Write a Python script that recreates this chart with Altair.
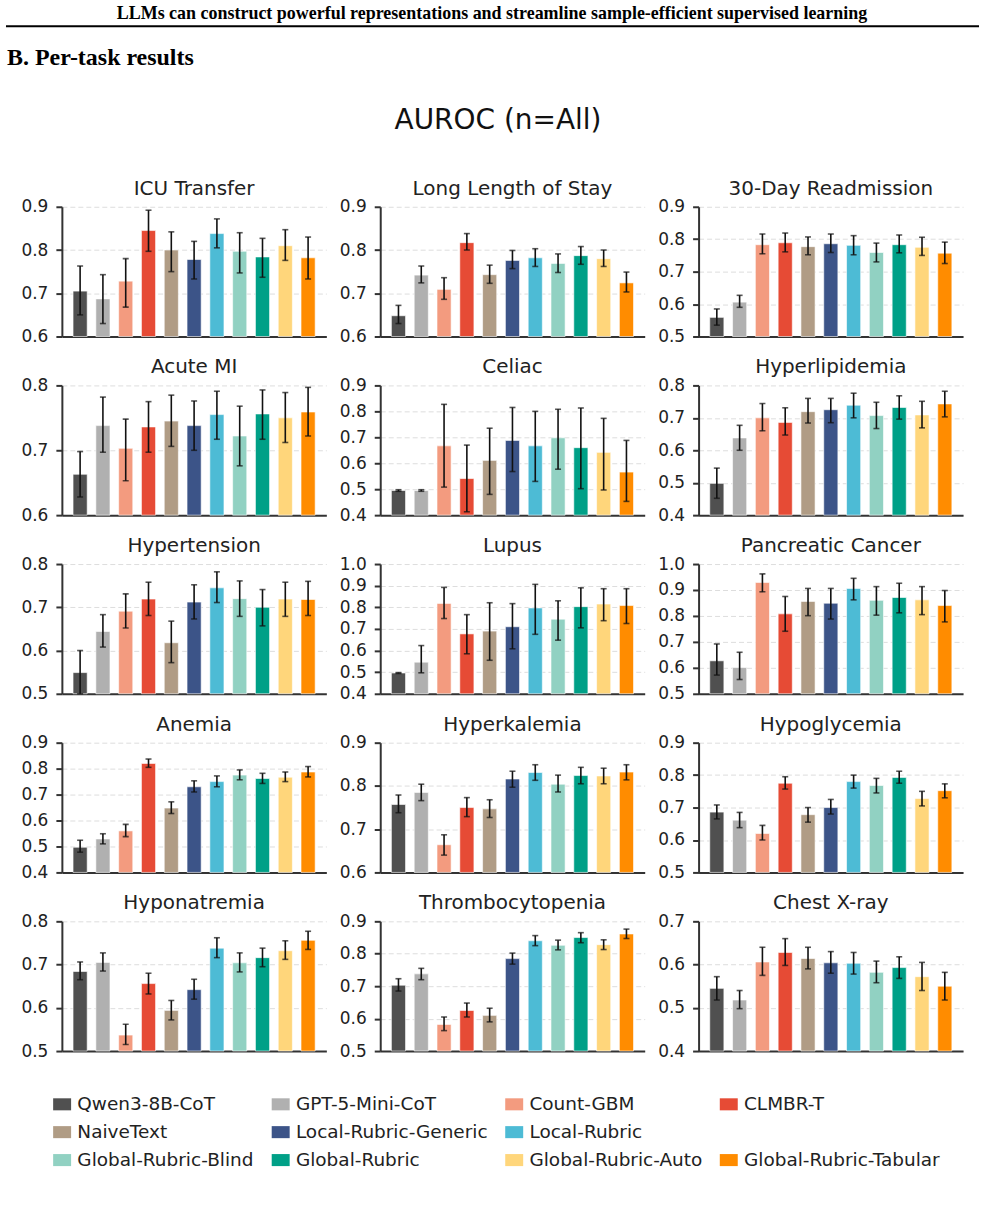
import altair as alt
import pandas as pd

# Methods in plotting order, with their bar colours
METHODS = [
    "Qwen3-8B-CoT", "GPT-5-Mini-CoT", "Count-GBM", "CLMBR-T", "NaiveText",
    "Local-Rubric-Generic", "Local-Rubric", "Global-Rubric-Blind",
    "Global-Rubric", "Global-Rubric-Auto", "Global-Rubric-Tabular",
]
COLORS = [
    "#505050", "#b0b0b0", "#F39B7F", "#E64B35", "#B09C85",
    "#3C5488", "#4DBBD5", "#91D1C2", "#00A087", "#FFD67B", "#FF8C00",
]

# AUROC mean and 95% CI bounds per task (one value per method)
ICU_MEAN = [0.705, 0.687, 0.728, 0.845, 0.800, 0.778, 0.838, 0.797, 0.784, 0.810, 0.782]
ICU_LO = [0.650, 0.630, 0.668, 0.797, 0.750, 0.733, 0.805, 0.747, 0.737, 0.776, 0.733]
ICU_HI = [0.763, 0.743, 0.780, 0.892, 0.842, 0.820, 0.872, 0.840, 0.827, 0.847, 0.830]

LOS_MEAN = [0.648, 0.742, 0.709, 0.817, 0.743, 0.776, 0.782, 0.769, 0.787, 0.780, 0.724]
LOS_LO = [0.630, 0.724, 0.686, 0.800, 0.723, 0.757, 0.762, 0.748, 0.767, 0.762, 0.703]
LOS_HI = [0.672, 0.763, 0.736, 0.838, 0.765, 0.799, 0.803, 0.791, 0.808, 0.800, 0.749]

READM_MEAN = [0.559, 0.606, 0.783, 0.789, 0.777, 0.786, 0.781, 0.759, 0.783, 0.775, 0.757]
READM_LO = [0.535, 0.590, 0.755, 0.761, 0.752, 0.759, 0.752, 0.730, 0.758, 0.750, 0.725]
READM_HI = [0.585, 0.627, 0.816, 0.819, 0.807, 0.816, 0.811, 0.788, 0.813, 0.806, 0.791]

AMI_MEAN = [0.663, 0.738, 0.703, 0.736, 0.745, 0.738, 0.755, 0.722, 0.756, 0.750, 0.759]
AMI_LO = [0.628, 0.697, 0.653, 0.697, 0.706, 0.700, 0.717, 0.676, 0.717, 0.712, 0.722]
AMI_HI = [0.698, 0.782, 0.748, 0.775, 0.785, 0.776, 0.791, 0.768, 0.793, 0.789, 0.797]

CELIAC_MEAN = [0.495, 0.495, 0.667, 0.541, 0.611, 0.688, 0.667, 0.698, 0.660, 0.642, 0.566]
CELIAC_LO = [0.492, 0.492, 0.508, 0.413, 0.480, 0.568, 0.530, 0.577, 0.502, 0.497, 0.453]
CELIAC_HI = [0.498, 0.498, 0.827, 0.670, 0.735, 0.815, 0.800, 0.808, 0.813, 0.773, 0.688]

HLD_MEAN = [0.498, 0.638, 0.700, 0.686, 0.719, 0.725, 0.739, 0.707, 0.732, 0.709, 0.743]
HLD_LO = [0.452, 0.600, 0.660, 0.647, 0.684, 0.685, 0.700, 0.667, 0.696, 0.669, 0.703]
HLD_HI = [0.545, 0.677, 0.744, 0.731, 0.760, 0.760, 0.776, 0.748, 0.768, 0.751, 0.782]

HTN_MEAN = [0.549, 0.644, 0.691, 0.719, 0.618, 0.712, 0.745, 0.720, 0.700, 0.719, 0.718]
HTN_LO = [0.500, 0.608, 0.652, 0.681, 0.572, 0.673, 0.711, 0.679, 0.657, 0.679, 0.681]
HTN_HI = [0.600, 0.683, 0.731, 0.758, 0.668, 0.752, 0.782, 0.761, 0.741, 0.758, 0.760]

LUPUS_MEAN = [0.496, 0.546, 0.818, 0.677, 0.690, 0.710, 0.797, 0.745, 0.803, 0.815, 0.808]
LUPUS_LO = [0.494, 0.497, 0.748, 0.585, 0.555, 0.608, 0.675, 0.648, 0.705, 0.738, 0.725]
LUPUS_HI = [0.498, 0.623, 0.892, 0.766, 0.821, 0.817, 0.906, 0.830, 0.890, 0.886, 0.886]

PANC_MEAN = [0.627, 0.601, 0.929, 0.808, 0.856, 0.849, 0.906, 0.860, 0.871, 0.862, 0.840]
PANC_LO = [0.572, 0.555, 0.893, 0.741, 0.801, 0.788, 0.862, 0.803, 0.812, 0.805, 0.777]
PANC_HI = [0.692, 0.660, 0.962, 0.875, 0.906, 0.906, 0.945, 0.913, 0.926, 0.913, 0.898]

ANEMIA_MEAN = [0.497, 0.529, 0.560, 0.820, 0.648, 0.730, 0.750, 0.775, 0.762, 0.767, 0.787]
ANEMIA_LO = [0.478, 0.510, 0.538, 0.805, 0.627, 0.710, 0.730, 0.757, 0.743, 0.750, 0.768]
ANEMIA_HI = [0.524, 0.549, 0.585, 0.837, 0.672, 0.753, 0.772, 0.795, 0.782, 0.787, 0.808]

HYPERK_MEAN = [0.757, 0.785, 0.664, 0.750, 0.747, 0.816, 0.831, 0.804, 0.824, 0.823, 0.832]
HYPERK_LO = [0.738, 0.766, 0.640, 0.729, 0.727, 0.797, 0.813, 0.786, 0.805, 0.805, 0.814]
HYPERK_HI = [0.779, 0.804, 0.687, 0.773, 0.768, 0.834, 0.849, 0.825, 0.843, 0.841, 0.849]

HYPOG_MEAN = [0.686, 0.661, 0.620, 0.775, 0.678, 0.700, 0.780, 0.768, 0.793, 0.728, 0.752]
HYPOG_LO = [0.665, 0.638, 0.600, 0.757, 0.655, 0.680, 0.760, 0.745, 0.775, 0.705, 0.730]
HYPOG_HI = [0.708, 0.685, 0.645, 0.795, 0.700, 0.725, 0.800, 0.790, 0.812, 0.750, 0.773]

HYPON_MEAN = [0.684, 0.705, 0.537, 0.656, 0.594, 0.642, 0.738, 0.704, 0.716, 0.732, 0.756]
HYPON_LO = [0.665, 0.685, 0.515, 0.632, 0.572, 0.620, 0.716, 0.683, 0.695, 0.712, 0.735]
HYPON_HI = [0.706, 0.727, 0.562, 0.680, 0.617, 0.666, 0.762, 0.727, 0.738, 0.755, 0.777]

THROMB_MEAN = [0.703, 0.738, 0.582, 0.625, 0.610, 0.785, 0.840, 0.826, 0.850, 0.828, 0.861]
THROMB_LO = [0.685, 0.720, 0.563, 0.605, 0.590, 0.768, 0.825, 0.812, 0.834, 0.813, 0.847]
THROMB_HI = [0.723, 0.755, 0.605, 0.648, 0.632, 0.802, 0.856, 0.842, 0.865, 0.843, 0.876]

CXR_MEAN = [0.545, 0.518, 0.606, 0.628, 0.614, 0.604, 0.603, 0.582, 0.593, 0.572, 0.550]
CXR_LO = [0.518, 0.498, 0.575, 0.598, 0.590, 0.580, 0.578, 0.558, 0.568, 0.540, 0.518]
CXR_HI = [0.572, 0.540, 0.640, 0.660, 0.640, 0.630, 0.628, 0.608, 0.618, 0.605, 0.582]

# Task titles and y-axis ranges, in grid order (3 per row)
TASKS = [
    "ICU Transfer", "Long Length of Stay", "30-Day Readmission",
    "Acute MI", "Celiac", "Hyperlipidemia",
    "Hypertension", "Lupus", "Pancreatic Cancer",
    "Anemia", "Hyperkalemia", "Hypoglycemia",
    "Hyponatremia", "Thrombocytopenia", "Chest X-ray",
]
Y_MIN = [0.6, 0.6, 0.5, 0.6, 0.4, 0.4, 0.5, 0.4, 0.5, 0.4, 0.6, 0.5, 0.5, 0.5, 0.4]
Y_MAX = [0.9, 0.9, 0.9, 0.8, 0.9, 0.8, 0.8, 1.0, 1.0, 0.9, 0.9, 0.9, 0.8, 0.9, 0.7]
SERIES = [
    (ICU_MEAN, ICU_LO, ICU_HI), (LOS_MEAN, LOS_LO, LOS_HI), (READM_MEAN, READM_LO, READM_HI),
    (AMI_MEAN, AMI_LO, AMI_HI), (CELIAC_MEAN, CELIAC_LO, CELIAC_HI), (HLD_MEAN, HLD_LO, HLD_HI),
    (HTN_MEAN, HTN_LO, HTN_HI), (LUPUS_MEAN, LUPUS_LO, LUPUS_HI), (PANC_MEAN, PANC_LO, PANC_HI),
    (ANEMIA_MEAN, ANEMIA_LO, ANEMIA_HI), (HYPERK_MEAN, HYPERK_LO, HYPERK_HI), (HYPOG_MEAN, HYPOG_LO, HYPOG_HI),
    (HYPON_MEAN, HYPON_LO, HYPON_HI), (THROMB_MEAN, THROMB_LO, THROMB_HI), (CXR_MEAN, CXR_LO, CXR_HI),
]

RUNNING_HEAD = ("LLMs can construct powerful representations and streamline "
                "sample-efficient supervised learning")
SECTION = "B. Per-task results"
SUPTITLE = "AUROC (n=All)"

FONT = "DejaVu Sans"
SERIF = "Liberation Serif"
PANEL_W, PANEL_H = 265, 130

# Legend entries fill column by column; this order (with one blank slot)
# gives rows: base models / NaiveText + local rubrics / global rubrics.
LEGEND_ROWS = [
    ["Qwen3-8B-CoT", "GPT-5-Mini-CoT", "Count-GBM", "CLMBR-T"],
    ["NaiveText", "Local-Rubric-Generic", "Local-Rubric", " "],
    ["Global-Rubric-Blind", "Global-Rubric", "Global-Rubric-Auto", "Global-Rubric-Tabular"],
]
LEGEND_DOMAIN = [LEGEND_ROWS[r][c] for c in range(4) for r in range(3)]
COLOR_OF = dict(zip(METHODS, COLORS))
COLOR_OF[" "] = "transparent"
LEGEND_RANGE = [COLOR_OF[m] for m in LEGEND_DOMAIN]

legend = alt.Legend(
    orient="none", legendX=-9, legendY=1096, columns=4, title=None,
    symbolType="M-1,-0.67H1V0.67H-1Z", symbolSize=324, symbolStrokeWidth=0,
    labelFontSize=18.5, labelFont=FONT, labelColor="#222222", labelLimit=0,
    labelOffset=6, rowPadding=9, columnPadding=17,
)
color_scale = alt.Scale(domain=LEGEND_DOMAIN, range=LEGEND_RANGE)


def panel(title, mean, lo, hi, ymin, ymax):
    df = pd.DataFrame({"method": METHODS, "auroc": mean, "lo": lo, "hi": hi})
    n_ticks = int(round((ymax - ymin) * 10)) + 1
    ticks = [round(ymin + 0.1 * k, 1) for k in range(n_ticks)]
    yscale = alt.Scale(domain=[ymin, ymax], nice=False, zero=False)
    yaxis = alt.Axis(values=ticks, tickCount=n_ticks, format=".1f", grid=True,
                     labelOverlap=False, labelBound=False)
    base = alt.Chart(df).encode(
        x=alt.X("method:N", sort=METHODS, title=None,
                scale=alt.Scale(paddingInner=0.38, paddingOuter=0.49),
                axis=alt.Axis(labels=False, ticks=False, grid=False, domain=True))
    )
    bars = base.mark_bar(stroke="white", strokeWidth=0.6).encode(
        y=alt.Y("auroc:Q", scale=yscale, title=None, axis=yaxis),
        y2=alt.datum(ymin),
        color=alt.Color("method:N", scale=color_scale, legend=legend),
    )
    err = base.mark_rule(color="#111111", strokeWidth=1.6).encode(
        y=alt.Y("lo:Q", title=None, axis=yaxis), y2="hi:Q")
    cap_lo = base.mark_tick(color="#111111", thickness=1.6, size=6).encode(
        y=alt.Y("lo:Q", title=None, axis=yaxis))
    cap_hi = base.mark_tick(color="#111111", thickness=1.6, size=6).encode(
        y=alt.Y("hi:Q", title=None, axis=yaxis))
    return alt.layer(bars, err, cap_lo, cap_hi).properties(
        width=PANEL_W, height=PANEL_H,
        title=alt.TitleParams(title, fontSize=20, font=FONT, fontWeight="normal",
                              color="#222222", offset=-1, anchor="middle"),
    )


panels = [panel(TASKS[i], *SERIES[i], Y_MIN[i], Y_MAX[i]) for i in range(len(TASKS))]
grid = alt.concat(*panels, columns=3, spacing={"row": 49, "column": 54}, bounds="flush")

# Page header: running head, rule, section heading and figure title
head_df = pd.DataFrame({"head": [RUNNING_HEAD], "section": [SECTION], "sup": [SUPTITLE]})
head_base = alt.Chart(head_df)
running = head_base.mark_text(font=SERIF, fontWeight="bold", fontSize=18,
                              baseline="middle", align="center", color="#000000").encode(
    text="head:N", x=alt.value(431), y=alt.value(13))
head_rule = head_base.mark_rule(color="#000000", strokeWidth=2).encode(
    x=alt.value(-56), x2=alt.value(919), y=alt.value(25))
section = head_base.mark_text(font=SERIF, fontWeight="bold", fontSize=24,
                              baseline="middle", align="left", color="#000000").encode(
    text="section:N", x=alt.value(-55), y=alt.value(57))
suptitle = head_base.mark_text(font=FONT, fontSize=28, baseline="middle",
                               align="center", color="#111111").encode(
    text="sup:N", x=alt.value(437), y=alt.value(120))
header = alt.layer(running, head_rule, section, suptitle).properties(width=905, height=196)

chart = alt.vconcat(header, grid, spacing=10, bounds="flush").resolve_scale(
    color="shared"
).properties(
    padding={"left": 5, "top": 0, "right": 5, "bottom": 0}
).configure(
    font=FONT,
).configure_view(
    stroke=None,
).configure_axis(
    domainColor="#333333", domainWidth=2,
    tickColor="#333333", tickWidth=2, tickSize=6,
    labelFont=FONT, labelFontSize=17, labelColor="#222222", labelPadding=8,
    labelOverlap=False,
    gridColor="#dddddd", gridDash=[5, 3], gridWidth=1,
)

chart.save("out.html", embed_options={"renderer": "svg", "actions": False})
